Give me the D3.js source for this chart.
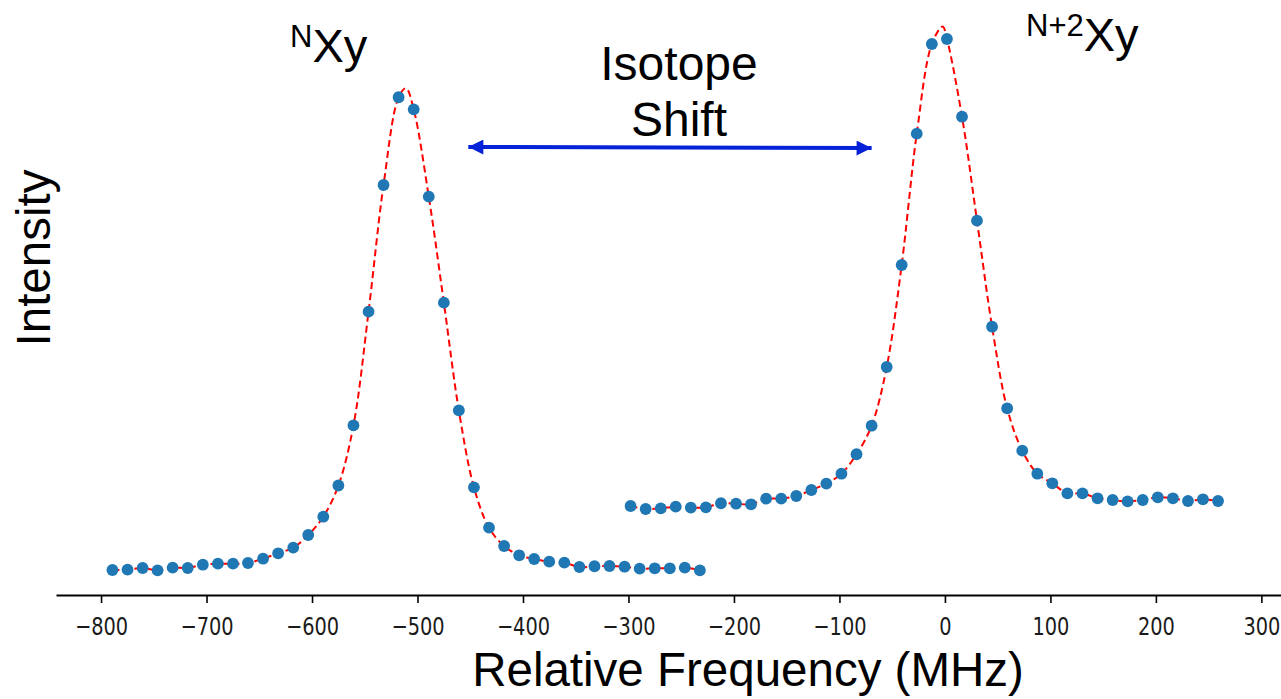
<!DOCTYPE html>
<html>
<head>
<meta charset="utf-8">
<script src="https://cdn.jsdelivr.net/npm/d3@7/dist/d3.min.js"></script>
<style>
  html, body { margin: 0; padding: 0; background: #ffffff; }
  svg { display: block; }
</style>
</head>
<body>
<svg id="chart" width="1281" height="699"></svg>
<script>
// Scan of the lighter isotope (MHz, arbitrary intensity units)
const freqLeft = [-789.2, -774.9, -760.6, -746.4, -732.1, -717.8, -703.5, -689.2, -674.9, -660.7,
                  -646.4, -632.1, -617.8, -603.6, -589.3, -575.0, -560.7, -546.4, -532.2, -517.9,
                  -503.6, -489.3, -475.0, -460.8, -446.5, -432.2, -417.9, -403.6, -389.4, -375.1,
                  -360.8, -346.5, -332.2, -318.0, -303.7, -289.4, -275.1, -260.8, -246.6, -232.3];
const intLeft = [4.46, 4.52, 4.82, 4.41, 4.88, 4.82, 5.41, 5.59, 5.59, 5.71,
                 6.48, 7.45, 8.45, 10.71, 13.98, 19.55, 30.30, 50.59, 73.21, 88.88,
                 86.73, 71.13, 52.20, 32.98, 19.23, 12.02, 8.75, 7.09, 6.43, 5.95,
                 5.77, 5.00, 5.13, 5.18, 5.05, 4.70, 4.77, 4.77, 4.88, 4.41];

// Scan of the heavier isotope
const freqRight = [-298.0, -283.7, -269.4, -255.2, -240.9, -226.6, -212.3, -198.0, -183.8, -169.5,
                   -155.2, -140.9, -126.6, -112.4, -98.1, -83.8, -69.5, -55.2, -41.0, -26.7,
                   -12.4, 1.9, 16.2, 30.4, 44.7, 59.0, 73.3, 87.6, 101.8, 116.1,
                   130.4, 144.7, 159.0, 173.2, 187.5, 201.8, 216.1, 230.4, 244.6, 258.9];
const intRight = [15.89, 15.36, 15.48, 15.77, 15.59, 15.66, 16.38, 16.30, 16.20, 17.20,
                  17.20, 17.68, 18.75, 19.88, 21.66, 25.13, 30.23, 40.71, 58.93, 82.38,
                  98.39, 99.29, 85.41, 66.84, 47.91, 33.34, 25.77, 21.66, 19.95, 18.16,
                  18.16, 17.27, 16.96, 16.73, 16.96, 17.45, 17.27, 16.79, 17.09, 16.79];

// Apex of each fitted profile [frequency, intensity]
const fitApexLeft = [-510.9, 90.5];
const fitApexRight = [-2.2, 101.5];

// Isotope-shift arrow ends [frequency, intensity]
const shiftArrow = [[-451.8, 80.0], [-69.5, 79.8]];

const xTicks = [-800, -700, -600, -500, -400, -300, -200, -100, 0, 100, 200, 300];

const svg = d3.select("#chart");
const W = 1281, H = 699;
svg.append("rect").attr("width", W).attr("height", H).attr("fill", "#ffffff");

const x = d3.scaleLinear().domain([-842.7, 318.6]).range([56, 1281]);
const y = d3.scaleLinear().domain([0, 100]).range([595, 35]);

// x axis (bottom spine only)
const axis = svg.append("g")
  .attr("transform", `translate(0,${y(0)})`)
  .call(d3.axisBottom(x)
    .tickValues(xTicks)
    .tickSize(8)
    .tickSizeOuter(0)
    .tickPadding(14)
    .tickFormat(d => d < 0 ? "\u2212" + Math.abs(d) : String(d)));
axis.select(".domain").attr("stroke", "#000").attr("stroke-width", 2);
axis.selectAll(".tick line").attr("stroke", "#000").attr("stroke-width", 1.6);
axis.selectAll(".tick text")
  .attr("fill", "#1a1a1a")
  .attr("transform", "scale(0.76,1)")
  .style("font-family", "'DejaVu Sans', sans-serif")
  .style("font-size", "25.5px");

// fitted profiles, dashed red
function fitPoints(freqs, ints, apex) {
  const pts = freqs.map((f, i) => [f, ints[i]]);
  pts.push(apex);
  pts.sort((a, b) => a[0] - b[0]);
  return pts;
}
const line = d3.line()
  .x(d => x(d[0]))
  .y(d => y(d[1]))
  .curve(d3.curveCatmullRom.alpha(0.5));

[[freqLeft, intLeft, fitApexLeft], [freqRight, intRight, fitApexRight]].forEach(([f, v, a]) => {
  svg.append("path")
    .datum(fitPoints(f, v, a))
    .attr("d", line)
    .attr("fill", "none")
    .attr("stroke", "#ff0000")
    .attr("stroke-width", 2)
    .attr("stroke-dasharray", "7,4");
});

// measured points
[[freqLeft, intLeft], [freqRight, intRight]].forEach(([f, v]) => {
  svg.append("g").selectAll("circle")
    .data(f.map((d, i) => [d, v[i]]))
    .join("circle")
    .attr("cx", d => x(d[0]))
    .attr("cy", d => y(d[1]))
    .attr("r", 5.9)
    .attr("fill", "#1f77b4");
});

// double-headed isotope-shift arrow
const arrowBlue = "#0622d8";
const defs = svg.append("defs");
["start", "end"].forEach(k => {
  defs.append("marker")
    .attr("id", "head-" + k)
    .attr("viewBox", "0 0 10 10")
    .attr("refX", k === "end" ? 10 : 0)
    .attr("refY", 5)
    .attr("markerUnits", "userSpaceOnUse")
    .attr("markerWidth", 16)
    .attr("markerHeight", 15)
    .attr("orient", "auto")
    .append("path")
    .attr("d", k === "end" ? "M0,0 L10,5 L0,10 Z" : "M10,0 L0,5 L10,10 Z")
    .attr("fill", arrowBlue);
});
svg.append("line")
  .attr("x1", x(shiftArrow[0][0])).attr("y1", y(shiftArrow[0][1]))
  .attr("x2", x(shiftArrow[1][0])).attr("y2", y(shiftArrow[1][1]))
  .attr("stroke", arrowBlue)
  .attr("stroke-width", 4)
  .attr("marker-start", "url(#head-start)")
  .attr("marker-end", "url(#head-end)");

const sans = "'Liberation Sans', Arial, sans-serif";

// annotation text
svg.append("text")
  .attr("x", 679).attr("y", 80)
  .attr("text-anchor", "middle")
  .style("font-family", sans).style("font-size", "48px")
  .text("Isotope");
svg.append("text")
  .attr("x", 679).attr("y", 136)
  .attr("text-anchor", "middle")
  .style("font-family", sans).style("font-size", "48px")
  .text("Shift");

// isotope labels with superscript mass prefix
function isotopeLabel(xPos, yBase, sup) {
  const t = svg.append("text")
    .attr("x", xPos).attr("y", yBase)
    .style("font-family", sans);
  t.append("tspan").attr("dy", -15).style("font-size", "31px").text(sup);
  t.append("tspan").attr("dy", 15).style("font-size", "47px").text("Xy");
}
isotopeLabel(290, 62, "N");
isotopeLabel(1026, 51, "N+2");

// axis titles
svg.append("text")
  .attr("x", 748).attr("y", 686)
  .attr("text-anchor", "middle")
  .style("font-family", sans).style("font-size", "47.5px")
  .text("Relative Frequency (MHz)");
svg.append("text")
  .attr("transform", "translate(50,258) rotate(-90)")
  .attr("text-anchor", "middle")
  .style("font-family", sans).style("font-size", "47.5px")
  .text("Intensity");
</script>
</body>
</html>
